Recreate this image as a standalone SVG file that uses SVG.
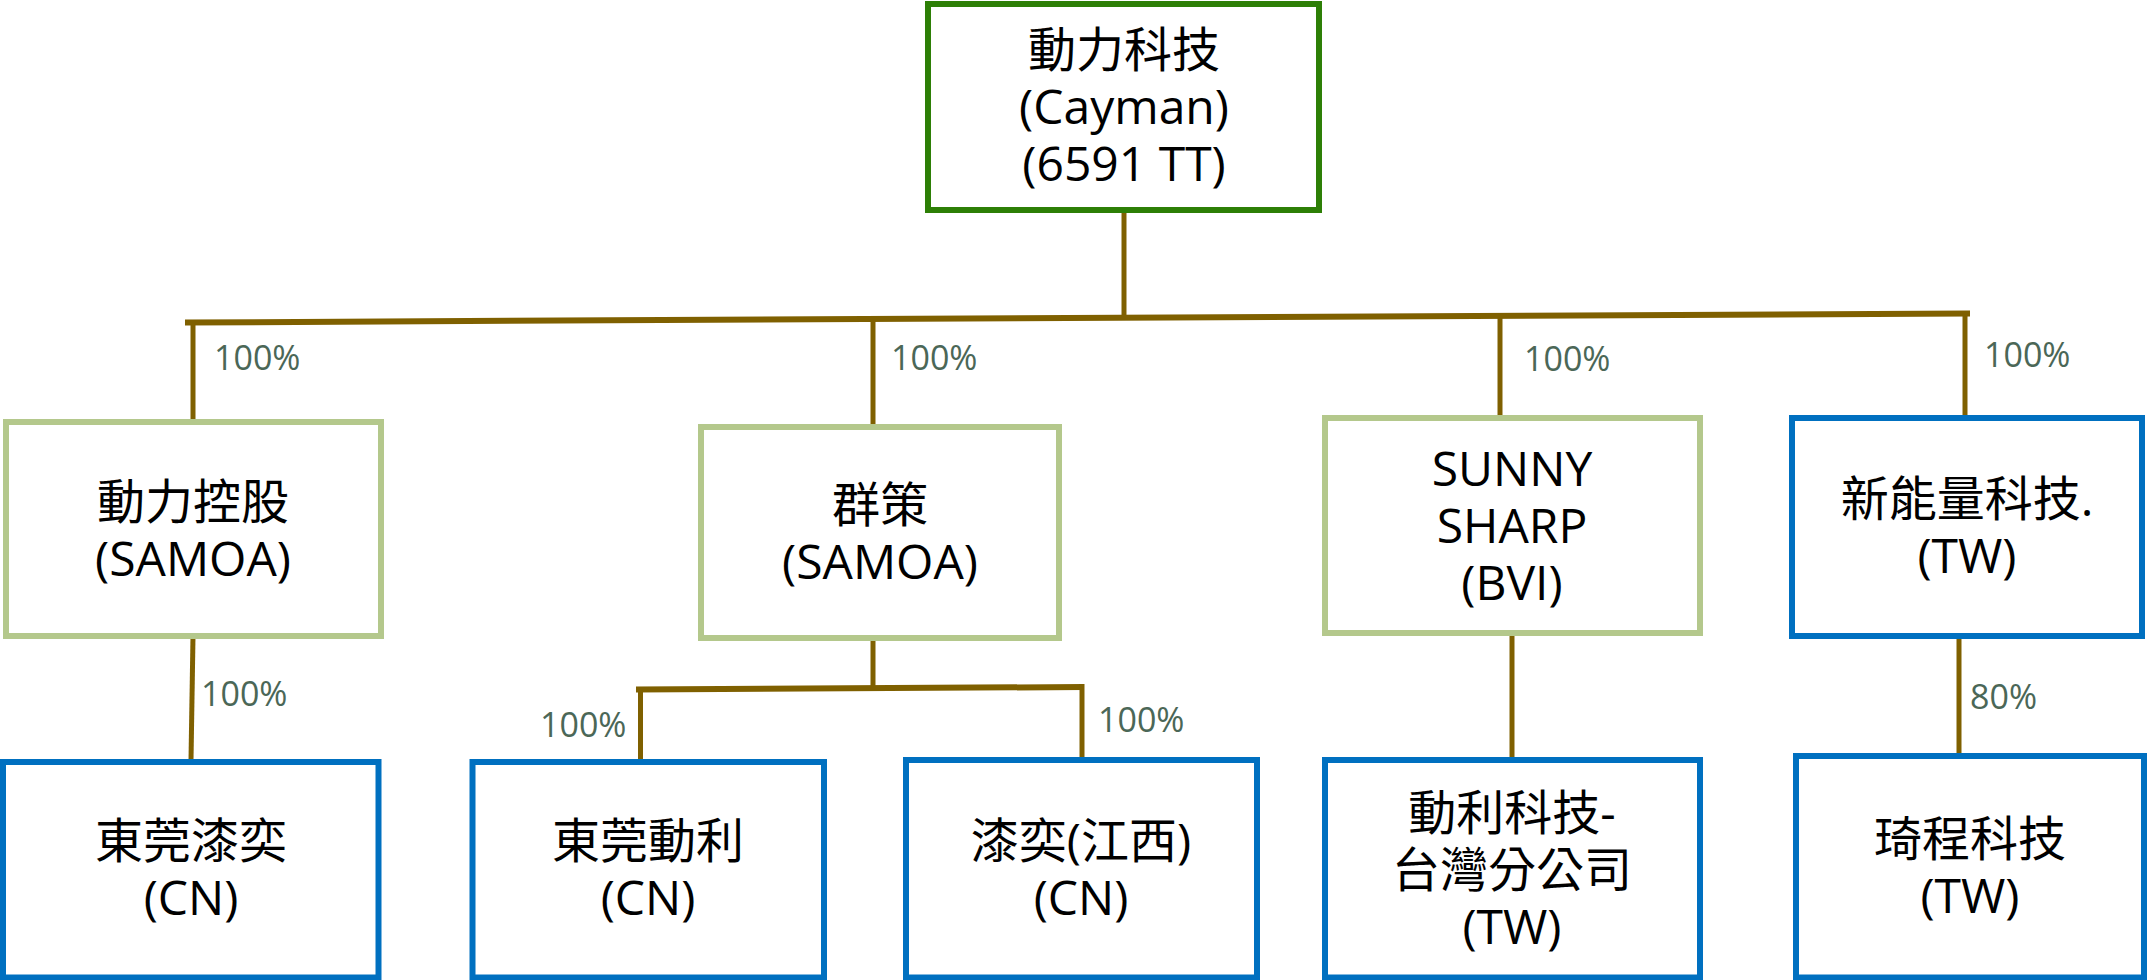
<svg xmlns="http://www.w3.org/2000/svg" width="2151" height="980" viewBox="0 0 2151 980">
<style>
.box{fill:#FFFFFF;stroke-width:6}
.top{stroke:#2D7F06}
.mid{stroke:#B4C88C}
.leaf{stroke:#0070C0}
.t{font-family:"Open Sans","Noto Sans CJK TC",sans-serif;font-size:48px;fill:#000000;text-anchor:middle}
.p{font-family:"Open Sans","Noto Sans CJK TC",sans-serif;font-size:34px;fill:#4B6757}
.c{stroke:#7F6000;stroke-width:5;fill:none}
.cb{stroke:#7F6000;stroke-width:6;fill:none}
</style>
<rect width="2151" height="980" fill="#FFFFFF"/>
<g id="connectors">
<line class="c" x1="1124" y1="212" x2="1124" y2="318"/>
<line class="cb" x1="185" y1="322.5" x2="1970" y2="313.5"/>
<line class="c" x1="193" y1="320" x2="193" y2="419"/>
<line class="c" x1="873" y1="319" x2="873" y2="424"/>
<line class="c" x1="1500" y1="316" x2="1500" y2="418"/>
<line class="c" x1="1965" y1="313" x2="1965" y2="418"/>
<line class="c" x1="193" y1="636" x2="191" y2="760"/>
<line class="c" x1="873" y1="638" x2="873" y2="689"/>
<line class="cb" x1="636" y1="689.5" x2="1084" y2="687"/>
<line class="c" x1="640.5" y1="689" x2="640.5" y2="764"/>
<line class="c" x1="1082" y1="684" x2="1082" y2="760"/>
<line class="c" x1="1512" y1="633" x2="1512" y2="760"/>
<line class="c" x1="1959" y1="636" x2="1959" y2="756"/>
<text class="p" x="214" y="370">100%</text>
<text class="p" x="891" y="370">100%</text>
<text class="p" x="1524" y="371">100%</text>
<text class="p" x="1984" y="367">100%</text>
<text class="p" x="201" y="706">100%</text>
<text class="p" x="540" y="737">100%</text>
<text class="p" x="1098" y="732">100%</text>
<text class="p" x="1970" y="709">80%</text>
</g>
<g id="n-root">
<rect class="box top" x="928" y="4" width="391" height="206"/>
<text class="t" x="1124" y="67"><tspan x="1124">動力科技</tspan><tspan x="1124" dy="57">(Cayman)</tspan><tspan x="1124" dy="57">(6591 TT)</tspan></text>
</g>
<g id="n-holding">
<rect class="box mid" x="6" y="422" width="375" height="214"/>
<text class="t" x="193" y="519"><tspan x="193">動力控股</tspan><tspan x="193" dy="57">(SAMOA)</tspan></text>
</g>
<g id="n-qunce">
<rect class="box mid" x="701" y="427" width="358" height="211"/>
<text class="t" x="880" y="522"><tspan x="880">群策</tspan><tspan x="880" dy="57">(SAMOA)</tspan></text>
</g>
<g id="n-sunny">
<rect class="box mid" x="1325" y="418" width="375" height="215"/>
<text class="t" x="1512" y="486"><tspan x="1512">SUNNY</tspan><tspan x="1512" dy="57">SHARP</tspan><tspan x="1512" dy="57">(BVI)</tspan></text>
</g>
<g id="n-xinneng">
<rect class="box leaf" x="1792" y="418" width="350" height="218"/>
<text class="t" x="1967" y="516"><tspan x="1967">新能量科技.</tspan><tspan x="1967" dy="57">(TW)</tspan></text>
</g>
<g id="n-dgqy">
<rect class="box leaf" x="3" y="762" width="375.5" height="215.5"/>
<text class="t" x="191" y="858"><tspan x="191">東莞漆奕</tspan><tspan x="191" dy="57">(CN)</tspan></text>
</g>
<g id="n-dgdl">
<rect class="box leaf" x="472.5" y="762" width="351.5" height="215.5"/>
<text class="t" x="648" y="858"><tspan x="648">東莞動利</tspan><tspan x="648" dy="57">(CN)</tspan></text>
</g>
<g id="n-qyjx">
<rect class="box leaf" x="906" y="760" width="351" height="217.5"/>
<text class="t" x="1081" y="858"><tspan x="1081">漆奕(江西)</tspan><tspan x="1081" dy="57">(CN)</tspan></text>
</g>
<g id="n-dltw">
<rect class="box leaf" x="1325" y="760" width="375" height="217.5"/>
<text class="t" x="1512" y="830"><tspan x="1512">動利科技-</tspan><tspan x="1512" dy="57">台灣分公司</tspan><tspan x="1512" dy="57">(TW)</tspan></text>
</g>
<g id="n-qicheng">
<rect class="box leaf" x="1796" y="756" width="348" height="221.5"/>
<text class="t" x="1970" y="856"><tspan x="1970">琦程科技</tspan><tspan x="1970" dy="57">(TW)</tspan></text>
</g>
</svg>
